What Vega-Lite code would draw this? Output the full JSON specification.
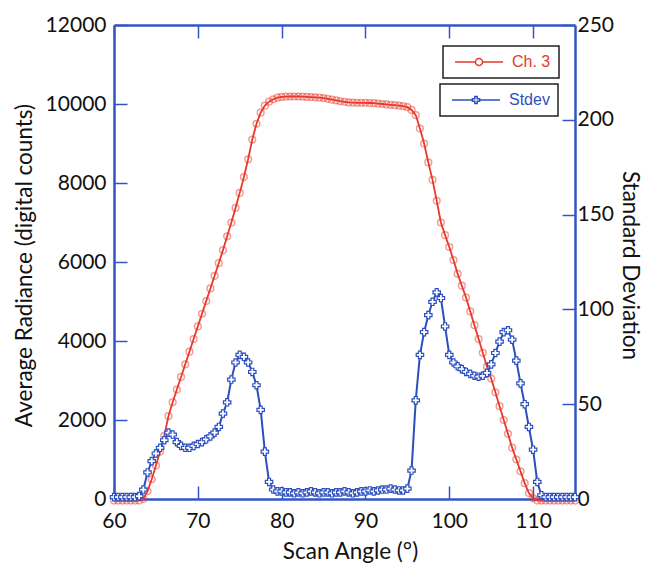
{
  "$schema": "https://vega.github.io/schema/vega-lite/v6.json",
  "width": 461,
  "height": 474,
  "autosize": "none",
  "padding": {"left": 114, "top": 25, "right": 77, "bottom": 64},
  "background": "white",
  "config": {"view": {"stroke": null}},
  "data": {"values": [
    {"angle": 60, "ch3": -40, "stdev": 1},
    {"angle": 60.5, "ch3": -40, "stdev": 1},
    {"angle": 61, "ch3": -40, "stdev": 1},
    {"angle": 61.5, "ch3": -40, "stdev": 1},
    {"angle": 62, "ch3": -40, "stdev": 1},
    {"angle": 62.5, "ch3": -40, "stdev": 1},
    {"angle": 63, "ch3": -40, "stdev": 1.5},
    {"angle": 63.5, "ch3": 0, "stdev": 5},
    {"angle": 64, "ch3": 200, "stdev": 14},
    {"angle": 64.5, "ch3": 500, "stdev": 20},
    {"angle": 65, "ch3": 850, "stdev": 24},
    {"angle": 65.5, "ch3": 1200, "stdev": 27},
    {"angle": 66, "ch3": 1600, "stdev": 31},
    {"angle": 66.5, "ch3": 2100, "stdev": 35},
    {"angle": 67, "ch3": 2450, "stdev": 34},
    {"angle": 67.5, "ch3": 2770, "stdev": 30},
    {"angle": 68, "ch3": 3090, "stdev": 28},
    {"angle": 68.5, "ch3": 3410, "stdev": 27},
    {"angle": 69, "ch3": 3730, "stdev": 27},
    {"angle": 69.5, "ch3": 4050, "stdev": 28},
    {"angle": 70, "ch3": 4370, "stdev": 29},
    {"angle": 70.5, "ch3": 4690, "stdev": 30},
    {"angle": 71, "ch3": 5010, "stdev": 31.5},
    {"angle": 71.5, "ch3": 5330, "stdev": 33},
    {"angle": 72, "ch3": 5650, "stdev": 35},
    {"angle": 72.5, "ch3": 5970, "stdev": 38},
    {"angle": 73, "ch3": 6300, "stdev": 45},
    {"angle": 73.5, "ch3": 6650, "stdev": 51},
    {"angle": 74, "ch3": 7000, "stdev": 63},
    {"angle": 74.5, "ch3": 7370, "stdev": 72},
    {"angle": 75, "ch3": 7750, "stdev": 76},
    {"angle": 75.5, "ch3": 8150, "stdev": 75},
    {"angle": 76, "ch3": 8600, "stdev": 72},
    {"angle": 76.5, "ch3": 9100, "stdev": 67},
    {"angle": 77, "ch3": 9500, "stdev": 60},
    {"angle": 77.5, "ch3": 9780, "stdev": 47},
    {"angle": 78, "ch3": 9960, "stdev": 25},
    {"angle": 78.5, "ch3": 10060, "stdev": 9},
    {"angle": 79, "ch3": 10120, "stdev": 5},
    {"angle": 79.5, "ch3": 10160, "stdev": 4},
    {"angle": 80, "ch3": 10180, "stdev": 4},
    {"angle": 80.5, "ch3": 10185, "stdev": 3.5},
    {"angle": 81, "ch3": 10190, "stdev": 3.5},
    {"angle": 81.5, "ch3": 10190, "stdev": 3},
    {"angle": 82, "ch3": 10190, "stdev": 3.5},
    {"angle": 82.5, "ch3": 10185, "stdev": 3},
    {"angle": 83, "ch3": 10180, "stdev": 3.5},
    {"angle": 83.5, "ch3": 10175, "stdev": 4},
    {"angle": 84, "ch3": 10170, "stdev": 3.5},
    {"angle": 84.5, "ch3": 10160, "stdev": 3},
    {"angle": 85, "ch3": 10150, "stdev": 3.5},
    {"angle": 85.5, "ch3": 10130, "stdev": 3.5},
    {"angle": 86, "ch3": 10110, "stdev": 3},
    {"angle": 86.5, "ch3": 10090, "stdev": 3.5},
    {"angle": 87, "ch3": 10070, "stdev": 3.5},
    {"angle": 87.5, "ch3": 10055, "stdev": 4},
    {"angle": 88, "ch3": 10040, "stdev": 3.5},
    {"angle": 88.5, "ch3": 10035, "stdev": 3},
    {"angle": 89, "ch3": 10030, "stdev": 3.5},
    {"angle": 89.5, "ch3": 10030, "stdev": 4},
    {"angle": 90, "ch3": 10030, "stdev": 4},
    {"angle": 90.5, "ch3": 10025, "stdev": 4.5},
    {"angle": 91, "ch3": 10020, "stdev": 4},
    {"angle": 91.5, "ch3": 10010, "stdev": 4.5},
    {"angle": 92, "ch3": 10000, "stdev": 5},
    {"angle": 92.5, "ch3": 9990, "stdev": 5},
    {"angle": 93, "ch3": 9980, "stdev": 5.5},
    {"angle": 93.5, "ch3": 9970, "stdev": 5},
    {"angle": 94, "ch3": 9960, "stdev": 4.5},
    {"angle": 94.5, "ch3": 9945, "stdev": 4.5},
    {"angle": 95, "ch3": 9920, "stdev": 5.5},
    {"angle": 95.5, "ch3": 9850, "stdev": 15},
    {"angle": 96, "ch3": 9720, "stdev": 52},
    {"angle": 96.5, "ch3": 9380, "stdev": 76},
    {"angle": 97, "ch3": 9000, "stdev": 88},
    {"angle": 97.5, "ch3": 8520, "stdev": 97},
    {"angle": 98, "ch3": 8080, "stdev": 104},
    {"angle": 98.5, "ch3": 7550, "stdev": 109},
    {"angle": 99, "ch3": 7000, "stdev": 106},
    {"angle": 99.5, "ch3": 6680, "stdev": 91},
    {"angle": 100, "ch3": 6380, "stdev": 76},
    {"angle": 100.5, "ch3": 6050, "stdev": 72},
    {"angle": 101, "ch3": 5700, "stdev": 70},
    {"angle": 101.5, "ch3": 5400, "stdev": 68.5},
    {"angle": 102, "ch3": 5100, "stdev": 67},
    {"angle": 102.5, "ch3": 4750, "stdev": 66},
    {"angle": 103, "ch3": 4400, "stdev": 65},
    {"angle": 103.5, "ch3": 4050, "stdev": 64.5},
    {"angle": 104, "ch3": 3700, "stdev": 65},
    {"angle": 104.5, "ch3": 3350, "stdev": 66.5},
    {"angle": 105, "ch3": 3050, "stdev": 71},
    {"angle": 105.5, "ch3": 2700, "stdev": 77},
    {"angle": 106, "ch3": 2350, "stdev": 83},
    {"angle": 106.5, "ch3": 2000, "stdev": 88},
    {"angle": 107, "ch3": 1650, "stdev": 89},
    {"angle": 107.5, "ch3": 1300, "stdev": 84},
    {"angle": 108, "ch3": 1000, "stdev": 73},
    {"angle": 108.5, "ch3": 700, "stdev": 61},
    {"angle": 109, "ch3": 400, "stdev": 50},
    {"angle": 109.5, "ch3": 150, "stdev": 38},
    {"angle": 110, "ch3": 20, "stdev": 26},
    {"angle": 110.5, "ch3": -40, "stdev": 9},
    {"angle": 111, "ch3": -40, "stdev": 2},
    {"angle": 111.5, "ch3": -40, "stdev": 1},
    {"angle": 112, "ch3": -40, "stdev": 1},
    {"angle": 112.5, "ch3": -40, "stdev": 1},
    {"angle": 113, "ch3": -40, "stdev": 1},
    {"angle": 113.5, "ch3": -40, "stdev": 1},
    {"angle": 114, "ch3": -40, "stdev": 1},
    {"angle": 114.5, "ch3": -40, "stdev": 1},
    {"angle": 115, "ch3": -40, "stdev": 1}
  ]},
  "layer": [
    {
      "layer": [
        {
          "mark": {"type": "line", "stroke": "#e8392b", "strokeWidth": 1.8},
          "encoding": {
            "x": {"field": "angle", "type": "quantitative",
              "scale": {"domain": [60, 115], "nice": false, "zero": false},
              "axis": {"orient": "bottom", "values": [60, 70, 80, 90, 100, 110], "format": "d", "title": "Scan Angle (°)",
                "grid": false, "labelFlush": false, "labelOverlap": false,
                "domainColor": "#3154c6", "domainWidth": 2.5, "tickColor": "#3154c6", "tickWidth": 1.5, "tickSize": -13,
                "labelPadding": 24, "labelFont": "Lato", "labelFontSize": 21, "labelColor": "#111",
                "titleFont": "Lato", "titleFontSize": 22.5, "titleFontWeight": "normal", "titleColor": "#111",
                "titleBaseline": "alphabetic", "titleX": 236, "titleY": 59}},
            "y": {"field": "ch3", "type": "quantitative",
              "scale": {"domain": [0, 12000], "nice": false},
              "axis": {"orient": "left", "values": [0, 2000, 4000, 6000, 8000, 10000, 12000], "format": "d", "title": "Average Radiance (digital counts)",
                "grid": false, "labelFlush": false, "labelOverlap": false,
                "domainColor": "#3154c6", "domainWidth": 2.5, "tickColor": "#3154c6", "tickWidth": 1.5, "tickSize": -13,
                "labelPadding": 21, "labelFont": "Lato", "labelFontSize": 21, "labelColor": "#111",
                "titleFont": "Lato", "titleFontSize": 22.5, "titleFontWeight": "normal", "titleColor": "#111",
                "titleBaseline": "alphabetic", "titleAngle": -90, "titleX": -83, "titleY": 240}},
            "color": {"datum": "Ch. 3", "scale": {"range": ["#e8392b"]},
              "legend": {"orient": "none", "legendX": 329, "legendY": 21, "title": null,
                "symbolType": "M-1,0H4.125M5.875,0H11M5.875,0A0.875,0.875 0 1 1 4.125,0A0.875,0.875 0 1 1 5.875,0",
                "symbolSize": 64, "symbolStrokeWidth": 1.5, "symbolStrokeColor": "#e8392b", "symbolFillColor": "white",
                "labelColor": "#e8392b", "labelFont": "Liberation Sans", "labelFontSize": 16, "labelOffset": 45,
                "padding": 8, "strokeColor": "#222",
                "encode": {"legend": {"update": {"strokeWidth": {"value": 1.5}}}}}}
          }
        },
        {
          "mark": {"type": "point", "shape": "circle", "filled": false, "stroke": "#e8392b", "strokeOpacity": 0.7, "strokeWidth": 1.5, "size": 45},
          "encoding": {
            "x": {"field": "angle", "type": "quantitative"},
            "y": {"field": "ch3", "type": "quantitative"}
          }
        }
      ]
    },
    {
      "layer": [
        {
          "mark": {"type": "line", "stroke": "#2c4fc0", "strokeWidth": 2},
          "encoding": {
            "x": {"field": "angle", "type": "quantitative",
              "axis": {"orient": "top", "values": [60, 70, 80, 90, 100, 110], "title": null, "labels": false,
                "grid": false, "domainColor": "#3154c6", "domainWidth": 2.5, "tickColor": "#3154c6", "tickWidth": 1.5, "tickSize": -13}},
            "y": {"field": "stdev", "type": "quantitative",
              "scale": {"domain": [0, 250], "nice": false},
              "axis": {"orient": "right", "values": [0, 50, 100, 150, 200, 250], "format": "d", "title": "Standard Deviation",
                "grid": false, "labelFlush": false, "labelOverlap": false,
                "domainColor": "#3154c6", "domainWidth": 2.5, "tickColor": "#3154c6", "tickWidth": 1.5, "tickSize": -13,
                "labelPadding": 15, "labelFont": "Lato", "labelFontSize": 21, "labelColor": "#111",
                "titleFont": "Lato", "titleFontSize": 22.5, "titleFontWeight": "normal", "titleColor": "#111",
                "titleBaseline": "alphabetic", "titleAngle": 90, "titleX": 47, "titleY": 240}},
            "color": {"datum": "Stdev", "scale": {"range": ["#2c4fc0"]},
              "legend": {"orient": "none", "legendX": 326, "legendY": 59, "title": null,
                "symbolType": "M-1,0H4.1M5.9,0H11M4.1,-0.3H4.7V-0.9H5.3V-0.3H5.9V0.3H5.3V0.9H4.7V0.3H4.1Z",
                "symbolSize": 64, "symbolStrokeWidth": 1.5, "symbolStrokeColor": "#2c4fc0", "symbolFillColor": "white",
                "labelColor": "#2c4fc0", "labelFont": "Liberation Sans", "labelFontSize": 16, "labelOffset": 45,
                "padding": 8, "strokeColor": "#222",
                "encode": {"legend": {"update": {"strokeWidth": {"value": 1.5}}}}}}
          }
        },
        {
          "mark": {"type": "point", "shape": "cross", "filled": true, "fill": "white", "fillOpacity": 1, "stroke": "#2c4fc0", "strokeWidth": 1.2, "size": 55, "opacity": 1},
          "encoding": {
            "x": {"field": "angle", "type": "quantitative"},
            "y": {"field": "stdev", "type": "quantitative"}
          }
        }
      ]
    }
  ],
  "resolve": {"scale": {"y": "independent", "color": "independent"}, "axis": {"x": "independent"}}
}
